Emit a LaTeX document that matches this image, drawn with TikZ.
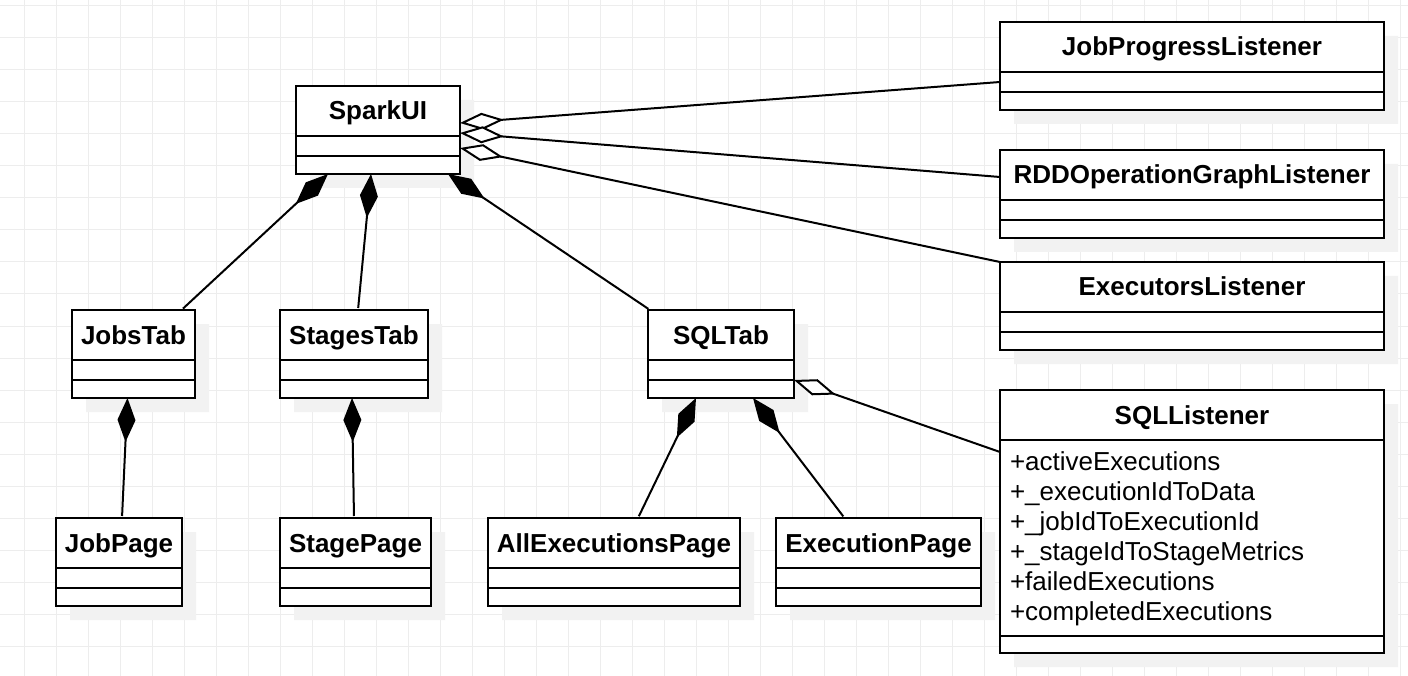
\documentclass[tikz,border=0pt]{standalone}
\usepackage{fontspec}
\setmainfont{Liberation Sans}
\usetikzlibrary{arrows.meta,shapes.multipart,shadows,calc}

\tikzset{
  umlclass/.style={rectangle split, rectangle split parts=3, draw, line width=2pt, fill=white,
    inner xsep=0pt, inner ysep=0pt, outer sep=0pt, anchor=north west, align=center,
    font=\fontsize{26pt}{30pt}\selectfont\bfseries,
    drop shadow={shadow xshift=14pt, shadow yshift=-14pt, fill=black!5, opacity=1}},
  comp/.style={line width=2pt, shorten <=2pt, -{Diamond[length=44pt,width=18pt]}},
  aggr/.style={line width=2pt, -{Diamond[length=44pt,width=17pt,fill=white]}},
  gridline/.style={draw=black!7, line width=1pt}
}
\newcommand{\classname}[1]{\rule[-15pt]{0pt}{48pt}#1\nodepart{two}\rule{0pt}{18pt}\nodepart{three}\rule{0pt}{16pt}}

\begin{document}
\begin{tikzpicture}[x=1pt, y=-1pt]
	\useasboundingbox (0,0) rectangle (1408,676);
	\fill[white] (0,0) rectangle (1408,676);
	% grid
	\foreach \gx in {24,56,...,1400} \draw[gridline] (\gx,0) -- (\gx,676);
	\foreach \gy in {6,38,...,670} \draw[gridline] (0,\gy) -- (1408,\gy);

	% nodes
	\node[umlclass, text width=164pt] (sparkui) at (296,86) {\classname{SparkUI}};
	\node[umlclass, text width=123pt] (jobstab) at (72,310) {\classname{JobsTab}};
	\node[umlclass, text width=148pt] (stagestab) at (280,310) {\classname{StagesTab}};
	\node[umlclass, text width=146pt] (sqltab) at (648,310) {\classname{SQLTab}};
	\node[umlclass, text width=126pt] (jobpage) at (56,518) {\classname{JobPage}};
	\node[umlclass, text width=151pt] (stagepage) at (280,518) {\classname{StagePage}};
	\node[umlclass, text width=252pt] (allexec) at (488,518) {\classname{AllExecutionsPage}};
	\node[umlclass, text width=205pt] (execpage) at (776,518) {\classname{ExecutionPage}};
	\node[umlclass, text width=384pt] (jobprog) at (1000,22) {\classname{JobProgressListener}};
	\node[umlclass, text width=384pt] (rddgraph) at (1000,150) {\classname{RDDOperationGraphListener}};
	\node[umlclass, text width=384pt] (executors) at (1000,262) {\classname{ExecutorsListener}};
	\node[umlclass, text width=384pt] (sqllistener) at (1000,390) {\rule[-15pt]{0pt}{48pt}SQLListener
		\nodepart{two}\noindent\parbox{384pt}{\mdseries\raggedright\leftskip=10pt
			\rule{0pt}{29pt}+activeExecutions\\
			+\_executionIdToData\\
			+\_jobIdToExecutionId\\
			+\_stageIdToStageMetrics\\
			+failedExecutions\\
			+completedExecutions\rule[-15pt]{0pt}{15pt}}
		\nodepart{three}\rule{0pt}{15pt}};

	% arrows
	\path[comp]
	([xshift=48pt]jobstab.north) edge ([xshift=-50pt]sparkui.south)
	([xshift=4pt]stagestab.north) edge ([xshift=-7pt]sparkui.south)
	([xshift=2pt]sqltab.north west) edge ([xshift=70pt]sparkui.south)
	([xshift=3pt]jobpage.north) edge ([xshift=-6pt]jobstab.south)
	([xshift=-1.5pt]stagepage.north) edge ([xshift=-2pt]stagestab.south)
	([xshift=24pt]allexec.north) edge ([xshift=-25pt]sqltab.south)
	([xshift=-34pt]execpage.north) edge ([xshift=32pt]sqltab.south);

	\path[aggr]
	($(jobprog.north west)+(0,60)$) edge ($(sparkui.north east)+(0,37)$)
	($(rddgraph.north west)+(0,27)$) edge ($(sparkui.north east)+(0,47)$)
	(executors.north west) edge ($(sparkui.north east)+(0,62)$)
	($(sqllistener.north west)+(0,62)$) edge ($(sqltab.south east)+(0,-18)$);
\end{tikzpicture}
\end{document}
